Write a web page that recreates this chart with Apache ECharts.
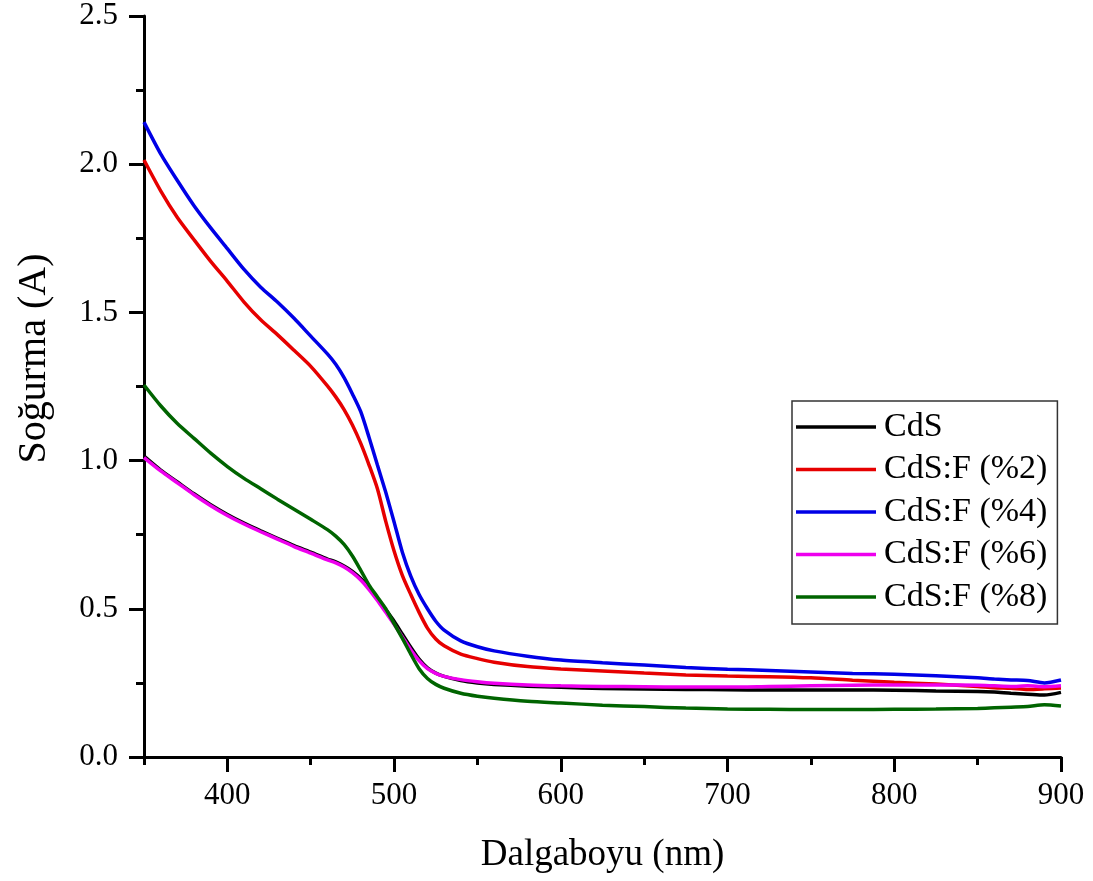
<!DOCTYPE html>
<html>
<head>
<meta charset="utf-8">
<script src="https://cdn.jsdelivr.net/npm/echarts@6/dist/echarts.min.js"></script>
<style>
html,body{margin:0;padding:0;background:#fff;}
#c{width:1093px;height:881px;}
</style>
</head>
<body>
<div id="c"></div>
<script>
// Wavelengths (nm)
const wavelengths = [350,360,370,380,390,400,410,420,430,440,450,460,
  465,470,475,480,485,490,495,500,505,510,515,520,525,530,
  540,550,560,580,600,625,650,675,700,725,750,775,800,825,850,860,870,880,890,900];

const seriesNames = ['CdS','CdS:F (%2)','CdS:F (%4)','CdS:F (%6)','CdS:F (%8)'];

const cds = [1.015,0.968,0.928,0.888,0.851,0.818,0.789,0.763,0.738,0.713,0.691,0.668,
  0.658,0.644,0.626,0.602,0.571,0.535,0.497,0.458,0.414,0.370,0.330,0.301,0.283,0.272,
  0.258,0.250,0.245,0.239,0.235,0.231,0.229,0.228,0.227,0.226,0.226,0.226,0.225,0.223,0.221,0.219,0.215,0.212,0.209,0.218];

const cdsF2 = [2.014,1.910,1.820,1.745,1.672,1.605,1.535,1.475,1.425,1.372,1.318,1.252,
  1.215,1.172,1.120,1.058,0.985,0.905,0.795,0.695,0.612,0.548,0.488,0.435,0.398,0.375,
  0.347,0.332,0.320,0.305,0.297,0.290,0.283,0.277,0.273,0.271,0.267,0.259,0.252,0.246,0.238,0.234,0.232,0.228,0.230,0.233];

const cdsF4 = [2.142,2.035,1.945,1.860,1.785,1.715,1.645,1.585,1.535,1.480,1.420,1.360,
  1.325,1.280,1.225,1.165,1.078,0.985,0.893,0.793,0.690,0.610,0.548,0.500,0.458,0.428,
  0.392,0.372,0.358,0.340,0.327,0.318,0.310,0.302,0.296,0.292,0.287,0.282,0.279,0.274,0.267,0.263,0.260,0.258,0.250,0.260];

const cdsF6 = [1.010,0.965,0.925,0.885,0.848,0.815,0.786,0.760,0.735,0.710,0.688,0.665,
  0.655,0.641,0.622,0.597,0.565,0.528,0.488,0.448,0.405,0.362,0.325,0.298,0.282,0.272,
  0.261,0.254,0.249,0.243,0.240,0.238,0.237,0.236,0.236,0.238,0.240,0.242,0.243,0.243,0.242,0.240,0.238,0.240,0.237,0.240];

const cdsF8 = [1.255,1.185,1.125,1.075,1.025,0.980,0.940,0.905,0.870,0.836,0.802,0.767,
  0.745,0.717,0.678,0.630,0.580,0.540,0.500,0.450,0.400,0.347,0.298,0.265,0.245,0.232,
  0.215,0.205,0.198,0.188,0.182,0.175,0.170,0.165,0.162,0.161,0.160,0.160,0.161,0.162,0.164,0.166,0.168,0.170,0.176,0.172];

const xTicks = [400,500,600,700,800,900];
const yTicks = [0.0,0.5,1.0,1.5,2.0,2.5];

const colors = ['#000000','#e60000','#0000e6','#ee00ee','#006400'];
const allValues = [cds, cdsF2, cdsF4, cdsF6, cdsF8];

const FONT = "'Liberation Serif','Times New Roman',serif";

const chart = echarts.init(document.getElementById('c'), null, {renderer:'canvas'});

const series = seriesNames.map((name, k) => ({
  name: name,
  type: 'line',
  xAxisIndex: 0,
  yAxisIndex: 0,
  data: wavelengths.map((w, i) => [w, allValues[k][i]]),
  showSymbol: false,
  symbol: 'none',
  smooth: 0.25,
  lineStyle: {color: colors[k], width: 3.5},
  itemStyle: {color: colors[k]},
  emphasis: {disabled: true},
  animation: false
}));

const option = {
  animation: false,
  backgroundColor: '#ffffff',
  grid: {left: 144, right: 32, top: 16, bottom: 124, containLabel: false},
  legend: {
    data: seriesNames,
    orient: 'vertical',
    left: 792,
    top: 401,
    width: 263,
    padding: [9, 10, 10, 4],
    itemGap: 8.5,
    itemWidth: 80,
    itemHeight: 14,
    borderColor: '#333333',
    borderWidth: 1.5,
    backgroundColor: '#ffffff',
    icon: 'path://M0,5.3 L80,5.3 L80,8.7 L0,8.7 Z',
    textStyle: {fontFamily: FONT, fontSize: 34, color: '#000', padding: [0,0,0,3]},
    selectedMode: false
  },
  xAxis: [
    {
      type: 'value',
      min: 350, max: 900,
      position: 'bottom',
      name: 'Dalgaboyu (nm)',
      nameLocation: 'middle',
      nameGap: 80,
      nameTextStyle: {fontFamily: FONT, fontSize: 37, color: '#000'},
      axisLine: {show: true, onZero: false, lineStyle: {color: '#000', width: 3}},
      axisTick: {show: true, inside: false, length: 15, customValues: xTicks, lineStyle: {color: '#000', width: 3}},
      axisLabel: {show: true, customValues: xTicks, margin: 23, fontFamily: FONT, fontSize: 31, color: '#000',
        formatter: v => String(v)},
      splitLine: {show: false}
    },
    {
      type: 'value',
      min: 350, max: 900, interval: 50,
      position: 'bottom',
      axisLine: {show: false, onZero: false},
      axisTick: {show: true, inside: false, length: 8, lineStyle: {color: '#000', width: 3}},
      axisLabel: {show: false},
      splitLine: {show: false}
    }
  ],
  yAxis: [
    {
      type: 'value',
      min: 0, max: 2.5, interval: 0.5,
      name: 'Soğurma (A)',
      nameLocation: 'middle',
      nameGap: 90,
      nameTextStyle: {fontFamily: FONT, fontSize: 40, color: '#000', padding: [0, 0, 0, 56]},
      axisLine: {show: true, onZero: false, lineStyle: {color: '#000', width: 3}},
      axisTick: {show: true, inside: false, length: 15, customValues: yTicks, lineStyle: {color: '#000', width: 3}},
      minorTick: {show: true, splitNumber: 2, length: 8, lineStyle: {color: '#000', width: 3}},
      axisLabel: {show: true, customValues: yTicks, margin: 26, fontFamily: FONT, fontSize: 31, color: '#000',
        formatter: v => Number(v).toFixed(1)},
      splitLine: {show: false},
      minorSplitLine: {show: false}
    }
  ],
  series: series
};

chart.setOption(option);
</script>
</body>
</html>
